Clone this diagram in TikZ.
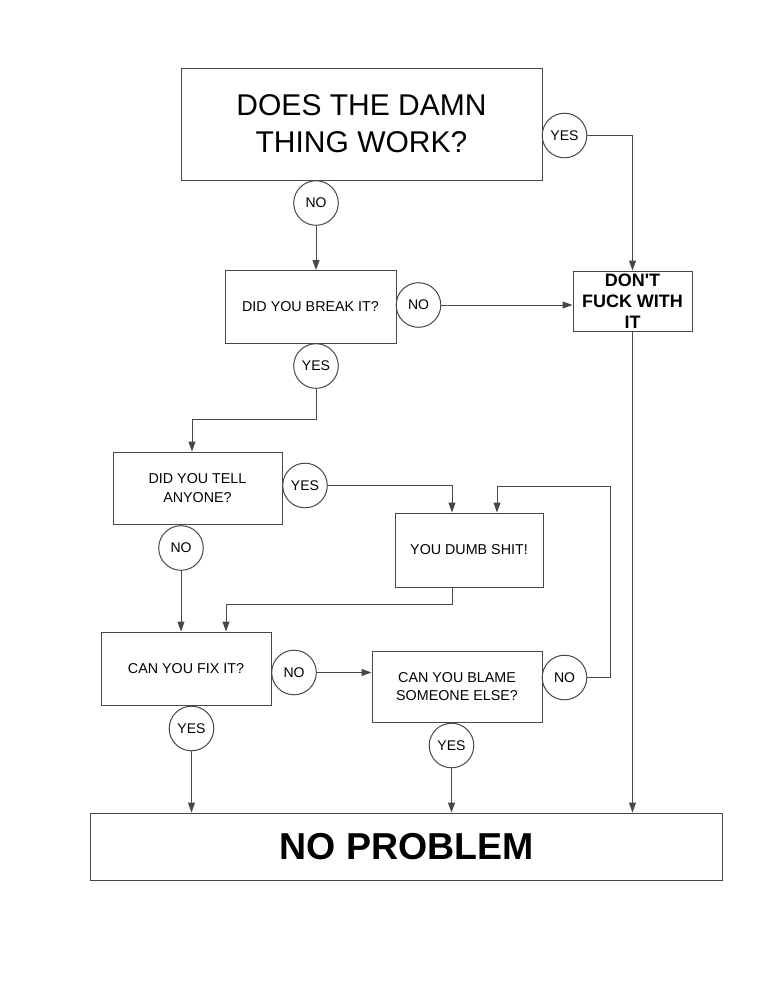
\documentclass[tikz,border=0pt]{standalone}
\usepackage{fontspec}
\setmainfont{Liberation Sans}
\usetikzlibrary{arrows.meta}
\tikzset{
  ln/.style={draw=black!72, line width=1pt},
  box/.style={ln, rectangle, inner sep=0pt, align=center, text=black,
    font=\fontsize{14.3}{18.5}\selectfont},
  lbl/.style={ln, circle, minimum size=44.6pt, inner sep=0pt, text=black,
    font=\fontsize{14}{16}\selectfont},
  arr/.style={ln, -{Triangle[length=10pt,width=7pt]}},
  con/.style={ln}
}
\begin{document}
\begin{tikzpicture}[x=1pt,y=-1pt]
\fill[white] (0,0) rectangle (768,994);
\useasboundingbox (0,0) rectangle (768,994);

% boxes
\node[box, minimum width=361pt, minimum height=112pt,
  font=\fontsize{30}{36.7}\selectfont] (q1) at (361.5,124) {DOES THE DAMN\\THING WORK?};
\node[box, minimum width=171pt, minimum height=73pt] (brk) at (310.5,307) {DID YOU BREAK IT?};
\node[box, minimum width=119pt, minimum height=60pt,
  font=\fontsize{18}{21}\selectfont\bfseries] (dont) at (632.5,301) {DON\textquotesingle T\\FUCK WITH\\IT};
\node[box, minimum width=169pt, minimum height=72pt] (tell) at (197.5,488) {DID YOU TELL\\ANYONE?};
\node[box, minimum width=148pt, minimum height=74pt] (dumb) at (469,550) {YOU DUMB SHIT!};
\node[box, minimum width=170pt, minimum height=73pt] (fix) at (186,668.5) {CAN YOU FIX IT?};
\node[box, minimum width=170pt, minimum height=71pt] (blame) at (457,686.5) {CAN YOU BLAME\\SOMEONE ELSE?};
\node[box, minimum width=632pt, minimum height=67pt,
  font=\fontsize{37.5}{40}\selectfont\bfseries] (np) at (406.5,846.5) {NO PROBLEM};

% answer circles
\node[lbl] (y1) at (564.5,135.5) {YES};
\node[lbl] (n1) at (316,203) {NO};
\node[lbl] (n2) at (418.5,305) {NO};
\node[lbl] (y2) at (316,366) {YES};
\node[lbl] (y3) at (305,485.5) {YES};
\node[lbl] (n3) at (181,548) {NO};
\node[lbl] (n4) at (294,672.5) {NO};
\node[lbl] (n5) at (564.5,677.5) {NO};
\node[lbl] (y4) at (191.5,728.5) {YES};
\node[lbl] (y5) at (451.5,745.5) {YES};

\coordinate (k1) at (610,486);

% connectors
\draw[arr] (y1.east) -| (dont.north);
\draw[arr] (n1.south) -- (n1.south |- brk.north);
\draw[arr] (n2.east) -- (n2.east -| dont.west);
\draw[arr] (dont.south) -- (dont.south |- np.north);
\draw[arr] (y2.south) -- ++(0,31) -| ([xshift=-5.5pt]tell.north);
\draw[arr] (y3.east) -| ([xshift=-17pt]dumb.north);
\draw[arr] (n5.east) -| (k1) -| ([xshift=28pt]dumb.north);
\draw[arr] (n3.south) -- (n3.south |- fix.north);
\draw[arr] ([xshift=-17pt]dumb.south) -- ++(0,17) -| ([xshift=40pt]fix.north);
\draw[arr] (n4.east) -- (n4.east -| blame.west);
\draw[arr] (y4.south) -- (y4.south |- np.north);
\draw[arr] (y5.south) -- (y5.south |- np.north);
\end{tikzpicture}
\end{document}
